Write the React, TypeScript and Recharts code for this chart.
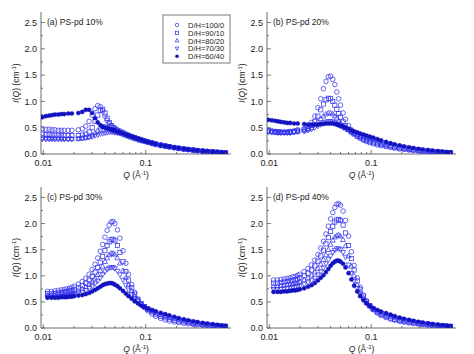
import { ScatterChart, Scatter, XAxis, YAxis } from "recharts";

// Q values (Å^-1); the top row starts a bit lower than the bottom row
const Q_TOP = [
  0.0098, 0.0106, 0.0114, 0.0122, 0.013, 0.014, 0.015, 0.016, 0.0175, 0.019,
  0.022, 0.024, 0.026, 0.028, 0.030, 0.032, 0.034, 0.036, 0.038, 0.040,
  0.042, 0.044, 0.046, 0.048, 0.050, 0.053, 0.056, 0.060, 0.064, 0.068,
  0.073, 0.078, 0.084, 0.090, 0.097, 0.105, 0.115, 0.125, 0.140, 0.155,
  0.170, 0.190, 0.210, 0.235, 0.260, 0.290, 0.320, 0.360, 0.400, 0.450,
  0.500, 0.550, 0.600,
];
const Q_BOTTOM = [
  0.011, 0.012, 0.013, 0.014, 0.015, 0.016, 0.017, 0.018, 0.019, 0.020,
  0.022, 0.024, 0.026, 0.028, 0.030, 0.032, 0.034, 0.036, 0.038, 0.040,
  0.042, 0.044, 0.046, 0.048, 0.050, 0.053, 0.056, 0.060, 0.064, 0.068,
  0.073, 0.078, 0.084, 0.090, 0.097, 0.105, 0.115, 0.125, 0.140, 0.155,
  0.170, 0.190, 0.210, 0.235, 0.260, 0.290, 0.320, 0.360, 0.400, 0.450,
  0.500, 0.550, 0.600,
];

const SERIES_NAMES = ["D/H=100/0", "D/H=90/10", "D/H=80/20", "D/H=70/30", "D/H=60/40"];
const MARKERS = ["circle", "square", "up", "down", "filled"];

const X_TICKS = [0.01, 0.02, 0.03, 0.04, 0.05, 0.06, 0.07, 0.08, 0.09, 0.1, 0.2, 0.3, 0.4, 0.5, 0.6];
const Y_TICKS = [0, 0.25, 0.5, 0.75, 1, 1.25, 1.5, 1.75, 2, 2.25, 2.5];

// (a) PS-pd 10%
const A_100_0 = [
  0.48, 0.47, 0.47, 0.46, 0.46, 0.45, 0.45, 0.45, 0.45, 0.45,
  0.46, 0.48, 0.53, 0.62, 0.74, 0.86, 0.92, 0.90, 0.82, 0.72,
  0.64, 0.58, 0.54, 0.51, 0.49, 0.46, 0.44, 0.41, 0.38, 0.36,
  0.33, 0.31, 0.29, 0.27, 0.25, 0.23, 0.21, 0.19, 0.17, 0.15,
  0.14, 0.12, 0.11, 0.095, 0.085, 0.075, 0.065, 0.055, 0.048, 0.04,
  0.033, 0.027, 0.022,
];
const A_90_10 = [
  0.38, 0.37, 0.37, 0.36, 0.36, 0.36, 0.35, 0.35, 0.35, 0.35,
  0.35, 0.36, 0.38, 0.42, 0.50, 0.62, 0.74, 0.83, 0.85, 0.78,
  0.68, 0.60, 0.54, 0.50, 0.47, 0.44, 0.42, 0.40, 0.37, 0.35,
  0.33, 0.31, 0.29, 0.27, 0.25, 0.23, 0.21, 0.19, 0.17, 0.155,
  0.14, 0.125, 0.11, 0.097, 0.087, 0.076, 0.066, 0.056, 0.049, 0.041,
  0.034, 0.028, 0.023,
];
const A_80_20 = [
  0.31, 0.30, 0.30, 0.30, 0.30, 0.30, 0.30, 0.29, 0.29, 0.29,
  0.29, 0.30, 0.31, 0.33, 0.36, 0.40, 0.45, 0.49, 0.52, 0.52,
  0.50, 0.48, 0.46, 0.44, 0.43, 0.41, 0.40, 0.38, 0.36, 0.34,
  0.32, 0.30, 0.28, 0.26, 0.245, 0.225, 0.205, 0.185, 0.165, 0.15,
  0.135, 0.12, 0.107, 0.094, 0.084, 0.074, 0.064, 0.055, 0.048, 0.04,
  0.033, 0.027, 0.022,
];
const A_70_30 = [
  0.28, 0.28, 0.28, 0.28, 0.28, 0.28, 0.28, 0.28, 0.28, 0.28,
  0.29, 0.30, 0.31, 0.32, 0.33, 0.35, 0.36, 0.38, 0.39, 0.40,
  0.41, 0.42, 0.42, 0.42, 0.41, 0.40, 0.39, 0.37, 0.35, 0.33,
  0.31, 0.29, 0.27, 0.255, 0.24, 0.22, 0.20, 0.18, 0.16, 0.145,
  0.13, 0.115, 0.103, 0.091, 0.081, 0.071, 0.062, 0.053, 0.046, 0.039,
  0.032, 0.026, 0.021,
];
const A_60_40 = [
  0.70, 0.72, 0.73, 0.74, 0.75, 0.75, 0.76, 0.76, 0.77, 0.77,
  0.78, 0.80, 0.84, 0.84, 0.78, 0.68, 0.60, 0.55, 0.52, 0.50,
  0.49, 0.48, 0.47, 0.46, 0.45, 0.43, 0.41, 0.39, 0.37, 0.35,
  0.33, 0.31, 0.29, 0.27, 0.25, 0.23, 0.21, 0.19, 0.17, 0.155,
  0.14, 0.125, 0.112, 0.099, 0.088, 0.078, 0.068, 0.058, 0.05, 0.042,
  0.035, 0.029, 0.024,
];

// (b) PS-pd 20%
const B_100_0 = [
  0.45, 0.44, 0.43, 0.42, 0.42, 0.42, 0.42, 0.43, 0.44, 0.46,
  0.48, 0.52, 0.60, 0.72, 0.88, 1.05, 1.24, 1.38, 1.47, 1.48,
  1.42, 1.32, 1.18, 1.05, 0.93, 0.78, 0.66, 0.54, 0.46, 0.40,
  0.34, 0.30, 0.265, 0.24, 0.215, 0.195, 0.175, 0.16, 0.14, 0.125,
  0.11, 0.097, 0.086, 0.075, 0.066, 0.057, 0.05, 0.042, 0.036, 0.03,
  0.025, 0.021, 0.018,
];
const B_90_10 = [
  0.44, 0.43, 0.42, 0.42, 0.41, 0.41, 0.41, 0.42, 0.43, 0.44,
  0.46, 0.49, 0.54, 0.62, 0.72, 0.84, 0.95, 1.03, 1.06, 1.05,
  1.00, 0.93, 0.85, 0.77, 0.70, 0.61, 0.54, 0.47, 0.42, 0.38,
  0.34, 0.31, 0.28, 0.255, 0.235, 0.215, 0.195, 0.178, 0.158, 0.142,
  0.127, 0.112, 0.1, 0.088, 0.077, 0.067, 0.059, 0.05, 0.043, 0.036,
  0.03, 0.025, 0.021,
];
const B_80_20 = [
  0.43, 0.42, 0.42, 0.41, 0.41, 0.41, 0.41, 0.41, 0.42, 0.43,
  0.45, 0.47, 0.50, 0.55, 0.61, 0.67, 0.72, 0.76, 0.78, 0.78,
  0.76, 0.72, 0.68, 0.63, 0.59, 0.54, 0.50, 0.46, 0.42, 0.39,
  0.36, 0.33, 0.30, 0.28, 0.26, 0.24, 0.218, 0.198, 0.176, 0.158,
  0.142, 0.126, 0.112, 0.099, 0.087, 0.076, 0.066, 0.057, 0.049, 0.041,
  0.034, 0.028, 0.023,
];
const B_70_30 = [
  0.42, 0.41, 0.41, 0.40, 0.40, 0.40, 0.40, 0.40, 0.41, 0.42,
  0.43, 0.45, 0.47, 0.50, 0.53, 0.56, 0.59, 0.61, 0.62, 0.62,
  0.61, 0.59, 0.57, 0.55, 0.53, 0.50, 0.48, 0.45, 0.42, 0.40,
  0.37, 0.35, 0.33, 0.31, 0.29, 0.27, 0.245, 0.222, 0.198, 0.178,
  0.16, 0.142, 0.126, 0.111, 0.098, 0.085, 0.074, 0.064, 0.055, 0.046,
  0.038, 0.031, 0.026,
];
const B_60_40 = [
  0.65, 0.64, 0.63, 0.62, 0.61, 0.60, 0.59, 0.59, 0.58, 0.58,
  0.57, 0.56, 0.56, 0.56, 0.56, 0.57, 0.57, 0.58, 0.58, 0.58,
  0.58, 0.57, 0.56, 0.55, 0.54, 0.52, 0.50, 0.48, 0.45, 0.43,
  0.41, 0.39, 0.37, 0.35, 0.33, 0.31, 0.285, 0.26, 0.23, 0.205,
  0.185, 0.163, 0.145, 0.128, 0.113, 0.098, 0.086, 0.074, 0.064, 0.053,
  0.044, 0.036, 0.03,
];

// (c) PS-pd 30%
const C_100_0 = [
  0.70, 0.70, 0.71, 0.72, 0.73, 0.74, 0.75, 0.76, 0.78, 0.80,
  0.84, 0.89, 0.95, 1.03, 1.12, 1.22, 1.34, 1.47, 1.60, 1.74,
  1.87, 1.97, 2.03, 2.04, 2.00, 1.88, 1.72, 1.48, 1.24, 1.03,
  0.83, 0.68, 0.55, 0.46, 0.39, 0.33, 0.27, 0.225, 0.185, 0.155,
  0.135, 0.117, 0.103, 0.09, 0.08, 0.07, 0.061, 0.052, 0.045, 0.038,
  0.032, 0.026, 0.022,
];
const C_90_10 = [
  0.66, 0.66, 0.66, 0.67, 0.68, 0.69, 0.70, 0.71, 0.72, 0.74,
  0.77, 0.81, 0.86, 0.92, 0.99, 1.07, 1.16, 1.26, 1.37, 1.48,
  1.58, 1.65, 1.69, 1.70, 1.67, 1.58, 1.45, 1.27, 1.08, 0.92,
  0.77, 0.65, 0.55, 0.47, 0.41, 0.36, 0.31, 0.265, 0.225, 0.195,
  0.172, 0.15, 0.132, 0.116, 0.102, 0.089, 0.078, 0.066, 0.057, 0.048,
  0.04, 0.033, 0.027,
];
const C_80_20 = [
  0.63, 0.63, 0.63, 0.64, 0.65, 0.65, 0.66, 0.67, 0.68, 0.69,
  0.72, 0.75, 0.79, 0.84, 0.89, 0.95, 1.02, 1.10, 1.18, 1.27,
  1.34, 1.40, 1.43, 1.43, 1.41, 1.34, 1.24, 1.10, 0.96, 0.83,
  0.71, 0.61, 0.53, 0.46, 0.41, 0.36, 0.32, 0.285, 0.25, 0.22,
  0.196, 0.172, 0.152, 0.134, 0.118, 0.103, 0.09, 0.077, 0.066, 0.056,
  0.047, 0.039, 0.032,
];
const C_70_30 = [
  0.60, 0.60, 0.60, 0.61, 0.61, 0.62, 0.62, 0.63, 0.64, 0.65,
  0.67, 0.69, 0.72, 0.76, 0.80, 0.85, 0.90, 0.96, 1.02, 1.08,
  1.12, 1.15, 1.16, 1.16, 1.14, 1.09, 1.02, 0.92, 0.82, 0.73,
  0.64, 0.57, 0.51, 0.46, 0.41, 0.37, 0.33, 0.30, 0.265, 0.235,
  0.21, 0.186, 0.165, 0.146, 0.129, 0.113, 0.099, 0.085, 0.073, 0.062,
  0.052, 0.043, 0.036,
];
const C_60_40 = [
  0.58, 0.58, 0.58, 0.58, 0.59, 0.59, 0.59, 0.60, 0.60, 0.61,
  0.62, 0.63, 0.65, 0.67, 0.70, 0.73, 0.76, 0.79, 0.82, 0.84,
  0.85, 0.86, 0.86, 0.85, 0.83, 0.80, 0.76, 0.71, 0.66, 0.61,
  0.56, 0.51, 0.47, 0.43, 0.40, 0.37, 0.345, 0.32, 0.29, 0.265,
  0.24, 0.215, 0.19, 0.168, 0.148, 0.129, 0.113, 0.097, 0.083, 0.07,
  0.058, 0.048, 0.04,
];

// (d) PS-pd 40%
const D_100_0 = [
  0.92, 0.92, 0.93, 0.94, 0.95, 0.96, 0.98, 0.99, 1.01, 1.03,
  1.08, 1.14, 1.21, 1.30, 1.41, 1.53, 1.66, 1.80, 1.95, 2.09,
  2.21, 2.31, 2.37, 2.38, 2.35, 2.24, 2.06, 1.76, 1.46, 1.20,
  0.96, 0.78, 0.63, 0.52, 0.43, 0.35, 0.29, 0.24, 0.2, 0.17,
  0.148, 0.128, 0.112, 0.098, 0.086, 0.075, 0.065, 0.056, 0.048, 0.04,
  0.034, 0.028, 0.023,
];
const D_90_10 = [
  0.86, 0.86, 0.87, 0.88, 0.89, 0.90, 0.91, 0.92, 0.94, 0.96,
  1.00, 1.05, 1.11, 1.19, 1.28, 1.38, 1.49, 1.61, 1.73, 1.85,
  1.95, 2.03, 2.07, 2.08, 2.06, 1.97, 1.82, 1.58, 1.33, 1.11,
  0.90, 0.74, 0.61, 0.51, 0.43, 0.36, 0.305, 0.26, 0.22, 0.19,
  0.167, 0.146, 0.128, 0.112, 0.098, 0.086, 0.075, 0.064, 0.055, 0.046,
  0.039, 0.032, 0.026,
];
const D_80_20 = [
  0.80, 0.80, 0.81, 0.82, 0.83, 0.84, 0.85, 0.86, 0.87, 0.89,
  0.92, 0.96, 1.01, 1.07, 1.14, 1.22, 1.31, 1.40, 1.50, 1.60,
  1.68, 1.74, 1.77, 1.78, 1.76, 1.69, 1.57, 1.38, 1.18, 1.00,
  0.83, 0.69, 0.58, 0.49, 0.42, 0.37, 0.32, 0.28, 0.24, 0.21,
  0.188, 0.165, 0.145, 0.127, 0.111, 0.097, 0.084, 0.072, 0.062, 0.052,
  0.044, 0.036, 0.03,
];
const D_70_30 = [
  0.74, 0.74, 0.75, 0.75, 0.76, 0.77, 0.78, 0.79, 0.80, 0.81,
  0.84, 0.87, 0.91, 0.96, 1.02, 1.08, 1.15, 1.23, 1.31, 1.38,
  1.45, 1.49, 1.52, 1.52, 1.50, 1.45, 1.36, 1.21, 1.05, 0.90,
  0.76, 0.64, 0.55, 0.47, 0.41, 0.365, 0.325, 0.29, 0.255, 0.225,
  0.203, 0.18, 0.16, 0.141, 0.124, 0.108, 0.094, 0.081, 0.069, 0.058,
  0.049, 0.041, 0.034,
];
const D_60_40 = [
  0.69, 0.69, 0.69, 0.70, 0.70, 0.71, 0.72, 0.72, 0.73, 0.74,
  0.76, 0.79, 0.82, 0.86, 0.91, 0.96, 1.01, 1.07, 1.13, 1.19,
  1.24, 1.27, 1.29, 1.29, 1.27, 1.23, 1.16, 1.05, 0.93, 0.81,
  0.70, 0.61, 0.53, 0.47, 0.42, 0.38, 0.345, 0.315, 0.285, 0.255,
  0.228, 0.2, 0.177, 0.156, 0.137, 0.12, 0.104, 0.089, 0.076, 0.064,
  0.053, 0.044, 0.036,
];

const FONT = "'Liberation Sans', Arial, sans-serif";
const AXIS = "#5a5a5a";
const OPEN = "#3535ee";
const FILLED = "#1212c0";

const toPoints = (q: number[], vals: number[]) => q.map((x, k) => ({ q: x, i: vals[k] }));

const panels = [
  { key: "a", title: "(a) PS-pd 10%", left: 0, top: 0, w: 237, h: 182, axisH: 23, margin: { top: 12, right: 6, bottom: 5, left: 11 }, q: Q_TOP, sets: [A_100_0, A_90_10, A_80_20, A_70_30, A_60_40], legend: true },
  { key: "b", title: "(b) PS-pd 20%", left: 237, top: 0, w: 237, h: 182, axisH: 23, margin: { top: 12, right: 18, bottom: 5, left: 0 }, q: Q_TOP, sets: [B_100_0, B_90_10, B_80_20, B_70_30, B_60_40], legend: false },
  { key: "c", title: "(c) PS-pd 30%", left: 0, top: 177, w: 237, h: 177, axisH: 26, margin: { top: 10, right: 6, bottom: 0, left: 11 }, q: Q_BOTTOM, sets: [C_100_0, C_90_10, C_80_20, C_70_30, C_60_40], legend: false },
  { key: "d", title: "(d) PS-pd 40%", left: 237, top: 177, w: 237, h: 177, axisH: 26, margin: { top: 10, right: 18, bottom: 0, left: 0 }, q: Q_BOTTOM, sets: [D_100_0, D_90_10, D_80_20, D_70_30, D_60_40], legend: false },
];

function Marker({ kind, cx, cy, k = 1 }: { kind: string; cx: number; cy: number; k?: number }) {
  if (cx == null || cy == null) return null;
  const s = { fill: "none", stroke: OPEN, strokeWidth: 0.75 };
  if (kind === "circle") return <circle cx={cx} cy={cy} r={2.3 * k} {...s} />;
  if (kind === "square") return <rect x={cx - 2.1 * k} y={cy - 2.1 * k} width={4.2 * k} height={4.2 * k} {...s} />;
  if (kind === "up")
    return <polygon points={`${cx},${cy - 2.7 * k} ${cx - 2.5 * k},${cy + 1.8 * k} ${cx + 2.5 * k},${cy + 1.8 * k}`} {...s} />;
  if (kind === "down")
    return <polygon points={`${cx},${cy + 2.7 * k} ${cx - 2.5 * k},${cy - 1.8 * k} ${cx + 2.5 * k},${cy - 1.8 * k}`} {...s} />;
  return <circle cx={cx} cy={cy} r={2.1 * k} fill={FILLED} stroke={FILLED} strokeWidth={0.4} />;
}

const isMajorQ = (v: number) => v === 0.01 || v === 0.1;
const isMajorI = (v: number) => Math.abs(v * 2 - Math.round(v * 2)) < 1e-6;

function tickRenderer(side: "bottom" | "top" | "left" | "right") {
  return (props: any) => {
    const { x, y, payload } = props;
    const v = payload.value as number;
    const horiz = side === "bottom" || side === "top";
    const major = horiz ? isMajorQ(v) : isMajorI(v);
    const len = major ? 4 : 2;
    if (side === "bottom") {
      return (
        <g>
          <line x1={x} x2={x} y1={y} y2={y - len} stroke={AXIS} strokeWidth={0.8} />
          {major && (
            <text x={x} y={y + 12} textAnchor="middle" fontSize={9} fontFamily={FONT} fill="#222">
              {v}
            </text>
          )}
        </g>
      );
    }
    if (side === "top") return <line x1={x} x2={x} y1={y} y2={y + len} stroke={AXIS} strokeWidth={0.8} />;
    if (side === "left") {
      return (
        <g>
          <line x1={x} x2={x + len} y1={y} y2={y} stroke={AXIS} strokeWidth={0.8} />
          {major && (
            <text x={x - 4} y={y + 3.2} textAnchor="end" fontSize={9} fontFamily={FONT} fill="#222">
              {v.toFixed(1)}
            </text>
          )}
        </g>
      );
    }
    return <line x1={x} x2={x - len} y1={y} y2={y} stroke={AXIS} strokeWidth={0.8} />;
  };
}

function Panel({ p }: { p: (typeof panels)[number] }) {
  const plotLeft = p.margin.left + 30;
  const plotRight = p.w - p.margin.right;
  const plotTop = p.margin.top;
  const plotBottom = p.h - p.margin.bottom - p.axisH;
  const midX = (plotLeft + plotRight) / 2;
  const midY = (plotTop + plotBottom) / 2;
  return (
    <div style={{ position: "absolute", left: p.left, top: p.top, width: p.w, height: p.h }}>
      <ScatterChart width={p.w} height={p.h} margin={p.margin}>
        <XAxis
          xAxisId="bottom"
          dataKey="q"
          type="number"
          scale="log"
          domain={[0.0095, 0.68]}
          allowDataOverflow
          ticks={X_TICKS}
          interval={0}
          tickSize={0}
          tickMargin={0}
          tickLine={false}
          tick={tickRenderer("bottom")}
          height={p.axisH}
          axisLine={{ stroke: AXIS, strokeWidth: 0.9 }}
        />
        <XAxis
          xAxisId="top"
          orientation="top"
          type="number"
          scale="log"
          domain={[0.0095, 0.68]}
          allowDataOverflow
          ticks={X_TICKS}
          interval={0}
          tickSize={0}
          tickMargin={0}
          tickLine={false}
          tick={tickRenderer("top")}
          height={0}
          axisLine={{ stroke: AXIS, strokeWidth: 0.9 }}
        />
        <YAxis
          yAxisId="left"
          dataKey="i"
          type="number"
          domain={[0, 2.7]}
          allowDataOverflow
          ticks={Y_TICKS}
          interval={0}
          tickSize={0}
          tickMargin={0}
          tickLine={false}
          tick={tickRenderer("left")}
          width={30}
          axisLine={{ stroke: AXIS, strokeWidth: 0.9 }}
        />
        <YAxis
          yAxisId="right"
          orientation="right"
          type="number"
          domain={[0, 2.7]}
          allowDataOverflow
          ticks={Y_TICKS}
          interval={0}
          tickSize={0}
          tickMargin={0}
          tickLine={false}
          tick={tickRenderer("right")}
          width={0}
          axisLine={{ stroke: AXIS, strokeWidth: 0.9 }}
        />
        {p.sets.map((vals, k) => (
          <Scatter
            key={SERIES_NAMES[k]}
            name={SERIES_NAMES[k]}
            xAxisId="bottom"
            yAxisId="left"
            data={toPoints(p.q, vals)}
            isAnimationActive={false}
            shape={(s: any) => <Marker kind={MARKERS[k]} cx={s.cx} cy={s.cy} />}
          />
        ))}
      </ScatterChart>
      <svg
        width={p.w}
        height={p.h}
        style={{ position: "absolute", left: 0, top: 0, pointerEvents: "none", overflow: "visible" }}
        fontFamily={FONT}
      >
        <text x={plotLeft + 6} y={plotTop + 13} fontSize={8.5} fill="#222">
          {p.title}
        </text>
        <text
          x={plotLeft - 22}
          y={midY}
          fontSize={8.5}
          fill="#222"
          textAnchor="middle"
          transform={`rotate(-90 ${plotLeft - 22} ${midY})`}
        >
          <tspan fontStyle="italic">I</tspan>(<tspan fontStyle="italic">Q</tspan>) (cm
          <tspan fontSize={6} dy={-3}>-1</tspan>
          <tspan dy={3}>)</tspan>
        </text>
        <text x={midX} y={plotBottom + 24} fontSize={8.5} fill="#222" textAnchor="middle">
          <tspan fontStyle="italic">Q</tspan> (Å<tspan fontSize={6} dy={-3}>-1</tspan>
          <tspan dy={3}>)</tspan>
        </text>
        {p.legend && (
          <g>
            <rect x={plotRight - 68} y={plotTop + 3} width={67} height={48} fill="white" stroke={AXIS} strokeWidth={0.8} />
            {SERIES_NAMES.map((name, k) => (
              <g key={name}>
                <Marker kind={MARKERS[k]} cx={plotRight - 54} cy={plotTop + 13 + k * 7.8} k={0.75} />
                <text x={plotRight - 43} y={plotTop + 16 + k * 7.8} fontSize={7.5} fill="#222">
                  {name}
                </text>
              </g>
            ))}
          </g>
        )}
      </svg>
    </div>
  );
}

export default function App() {
  return (
    <div style={{ position: "absolute", left: 0, top: 0, width: 474, height: 354, background: "white" }}>
      {panels.map((p) => (
        <Panel key={p.key} p={p} />
      ))}
    </div>
  );
}
